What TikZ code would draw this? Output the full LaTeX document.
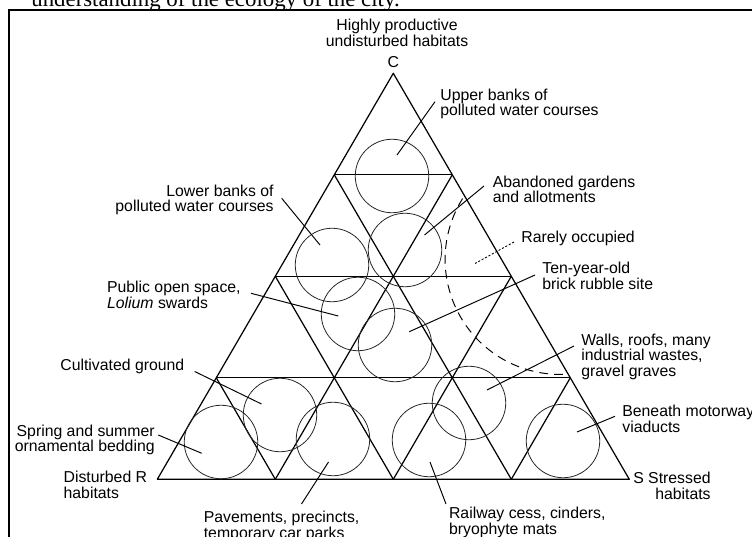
\documentclass[tikz,border=0pt]{standalone}
\usepackage{fontspec}
\setmainfont{Liberation Sans}
\newfontfamily\bookfont{Liberation Serif}
\usepackage{tikz}

\tikzset{
    habitat/.style={draw, circle, minimum size=1.47cm, line width=0.45pt, black!85},
    gridline/.style={line width=0.7pt, line join=round},
    leader/.style={line width=0.55pt},
    rareline/.style={line width=0.5pt, dash pattern=on 1.2pt off 1pt},
    rarearc/.style={line width=0.55pt, dash pattern=on 5pt off 3.5pt}
}

\begin{document}
\begin{tikzpicture}[x=0.02cm, y=-0.02cm,
        every node/.style={inner sep=0pt, font=\fontsize{9}{8.8}\selectfont}]
            \useasboundingbox (0,0) rectangle (752,537);

            % page text and frame
            \node[anchor=base west, font=\bookfont\fontsize{13}{14}\selectfont] (pagetext) at (31,7) {understanding of the ecology of the city.};
            \draw[line width=1.3pt] (9,560) -- (9,10) -- (780,10);

            % the triangle and its grid
            \coordinate (C) at (393.3,73.3);
            \coordinate (R) at (157.3,479.3);
            \coordinate (S) at (629.3,479.3);
            \draw[gridline] (C) -- (R) -- (S) -- cycle;
            \draw[gridline] (334.3,174.8) -- (452.3,174.8);
            \draw[gridline] (275.3,276.3) -- (511.3,276.3);
            \draw[gridline] (216.3,377.8) -- (570.3,377.8);
            \draw[gridline] (452.3,174.8) -- (275.3,479.3);
            \draw[gridline] (511.3,276.3) -- (393.3,479.3);
            \draw[gridline] (570.3,377.8) -- (511.3,479.3);
            \draw[gridline] (334.3,174.8) -- (511.3,479.3);
            \draw[gridline] (275.3,276.3) -- (393.3,479.3);
            \draw[gridline] (216.3,377.8) -- (275.3,479.3);

            % corners
            \node[anchor=north] (toplbl) at (397,19) [align=center] {Highly productive\\undisturbed habitats};
            \node[anchor=base] (clbl) at (393.3,67.5) {C};
            \node[anchor=north west, align=left] (rlbl) at (63.3,471) {Disturbed R\\habitats};
            \node[anchor=north east, align=right] (slbl) at (711,472) {S Stressed\\habitats};

            % habitats
            \node[habitat] (upper) at (392,176) {};
            \node[habitat] (lower) at (332,265) {};
            \node[habitat] (garden) at (405,250) {};
            \node[habitat] (public) at (358,314) {};
            \node[habitat] (rubble) at (395,345) {};
            \node[habitat] (cult) at (280,415) {};
            \node[habitat] (spring) at (221,442) {};
            \node[habitat] (pave) at (333,439) {};
            \node[habitat] (walls) at (469,403) {};
            \node[habitat] (rail) at (429,440) {};
            \node[habitat] (motorway) at (563,441) {};

            % rarely occupied corner
            \draw[rarearc] (462.6,198.5) arc[start angle=212, end angle=88, radius=115];

            % labels
            \node[anchor=north west, align=left] (upperlbl) at (440,88.5) {Upper banks of\\polluted water courses};
            \node[anchor=north east, align=right] (lowerlbl) at (274,184.5) {Lower banks of\\polluted water courses};
            \node[anchor=north west, align=left] (gardenlbl) at (492.5,175.5) {Abandoned gardens\\and allotments};
            \node[anchor=north west] (rarelbl) at (521,231) {Rarely occupied};
            \node[anchor=north west, align=left] (publiclbl) at (106.7,281) {Public open space,\\\textit{Lolium} swards};
            \node[anchor=north west, align=left] (rubblelbl) at (542,262) {Ten-year-old\\brick rubble site};
            \node[anchor=north west] (cultlbl) at (60,358.5) {Cultivated ground};
            \node[anchor=north west, align=left] (wallslbl) at (581,333.5) {Walls, roofs, many\\industrial wastes,\\gravel graves};
            \node[anchor=north east, align=right] (springlbl) at (155,424.5) {Spring and summer\\ornamental bedding};
            \node[anchor=north west, align=left] (motorwaylbl) at (622,405) {Beneath motorway\\viaducts};
            \node[anchor=north west, align=left] (pavelbl) at (203.5,511) {Pavements, precincts,\\temporary car parks};
            \node[anchor=north west, align=left] (raillbl) at (448.7,507) {Railway cess, cinders,\\bryophyte mats};

            % leader ends
            \coordinate (upperpt) at (397,155);
            \coordinate (lowerpt) at (320,245);
            \coordinate (gardenpt) at (424.5,235);
            \coordinate (rarept) at (475,263.5);
            \coordinate (publicpt) at (338.3,316);
            \coordinate (rubblept) at (409.3,331.7);
            \coordinate (cultpt) at (261.5,404);
            \coordinate (wallspt) at (487,390);
            \coordinate (springpt) at (201.7,453.3);
            \coordinate (motorwaypt) at (577,432);
            \coordinate (pavept) at (328.5,462);
            \coordinate (railpt) at (430,462);

            \draw[leader] ([shift={(-5,13.2)}]upperlbl.north west) -- (upperpt);
            \draw[leader] ([shift={(7.7,13.8)}]lowerlbl.north east) -- (lowerpt);
            \draw[leader] ([shift={(-8.5,10.5)}]gardenlbl.north west) -- (gardenpt);
            \draw[rareline] ([shift={(-7,11)}]rarelbl.north west) -- (rarept);
            \draw[leader] ([shift={(10,12.3)}]publiclbl.north east) -- (publicpt);
            \draw[leader] ([shift={(-7,13)}]rubblelbl.north west) -- (rubblept);
            \draw[leader] ([shift={(10,13)}]cultlbl.north east) -- (cultpt);
            \draw[leader] ([shift={(-7,12.5)}]wallslbl.north west) -- (wallspt);
            \draw[leader] ([shift={(3.3,10.5)}]springlbl.north east) -- (springpt);
            \draw[leader] ([shift={(-7,11.3)}]motorwaylbl.north west) -- (motorwaypt);
            \draw[leader] ([shift={(98,-7)}]pavelbl.north west) -- (pavept);
            \draw[leader] ([shift={(-2.7,-3)}]raillbl.north west) -- (railpt);
        \end{tikzpicture}
\end{document}
